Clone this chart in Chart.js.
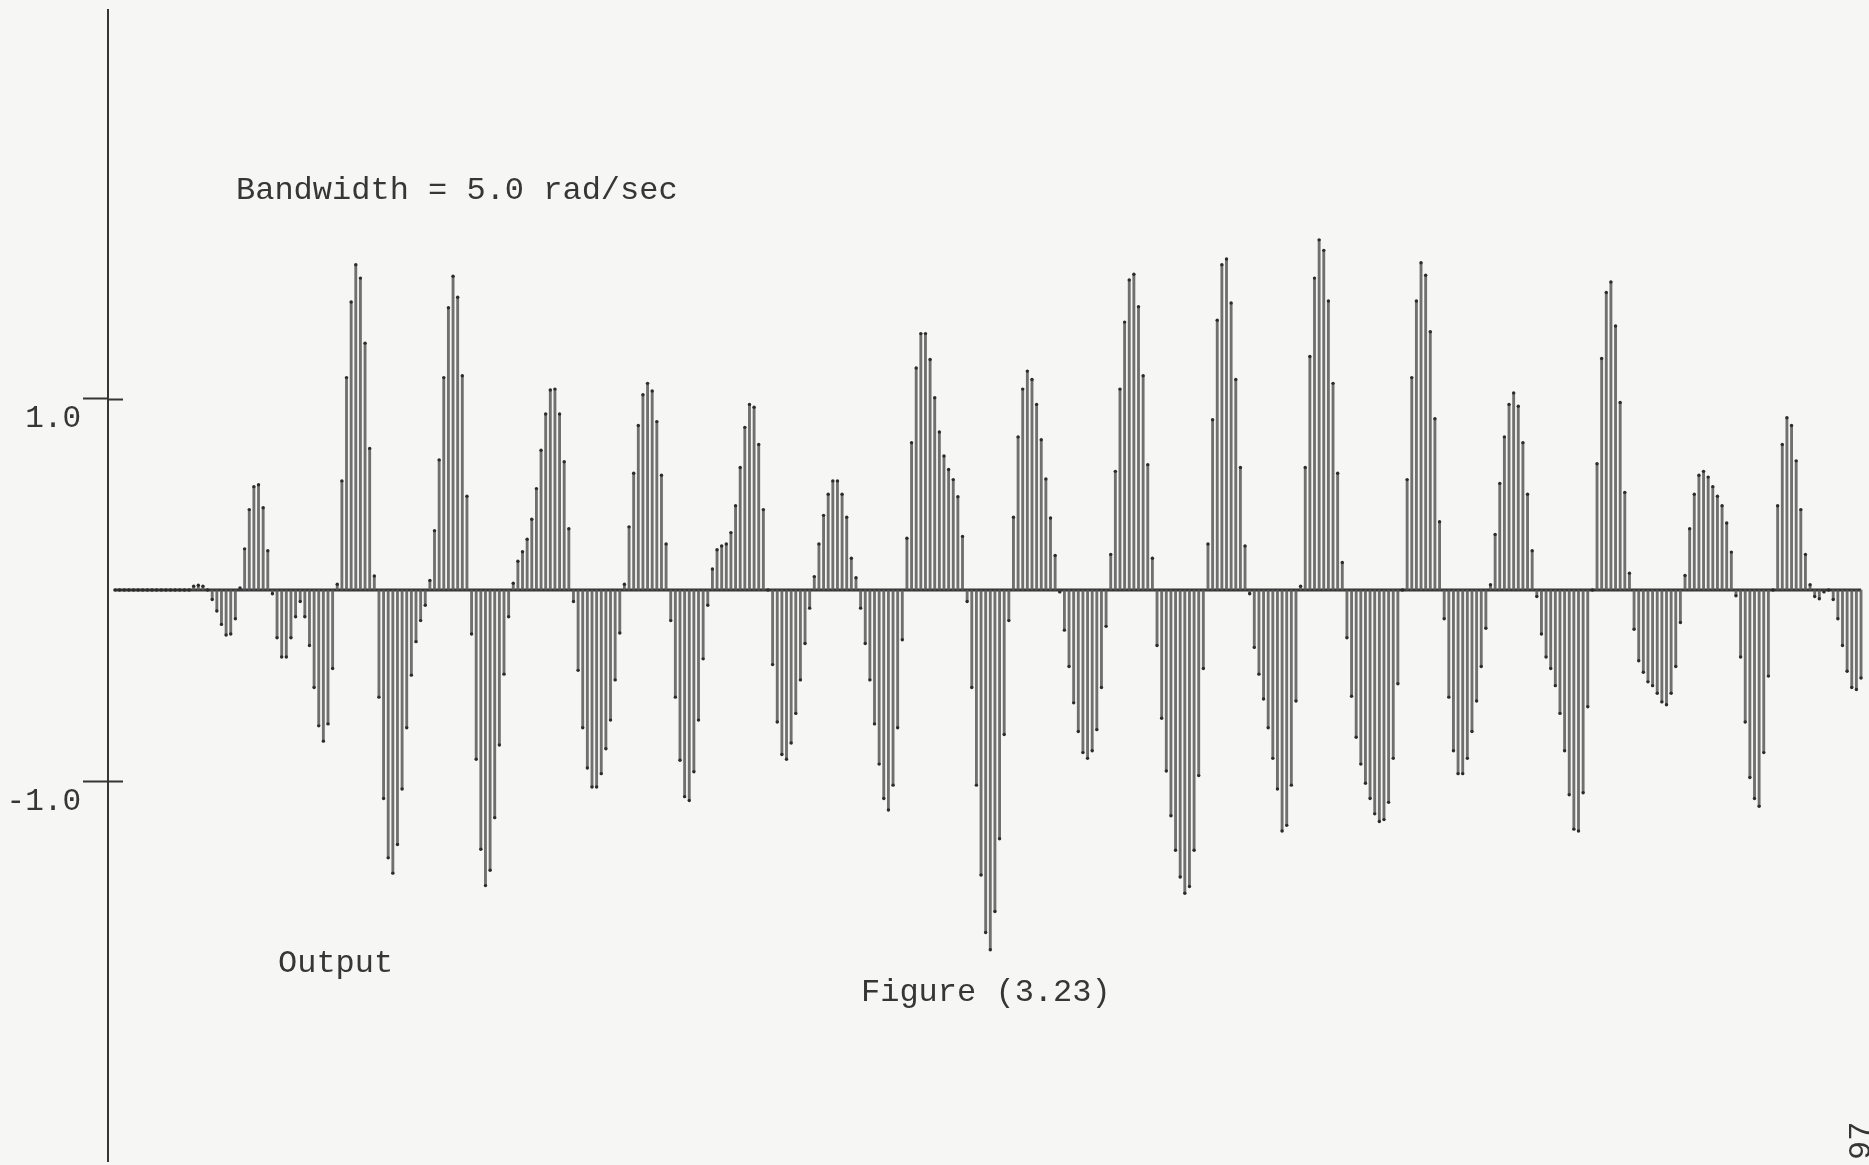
<!DOCTYPE html>
<html>
<head>
<meta charset="utf-8">
<title>Figure (3.23)</title>
<script src="https://cdn.jsdelivr.net/npm/chart.js@4/dist/chart.umd.min.js"></script>
<style>
  html, body { margin: 0; padding: 0; background: #f6f6f4; }
  #page { position: relative; width: 1869px; height: 1165px; overflow: hidden; }
  #plot { position: absolute; left: 0; top: 0; }
  .note {
    position: absolute; white-space: pre; margin: 0;
    font-family: "Liberation Mono", "DejaVu Sans Mono", monospace;
    font-size: 32px; line-height: 32px; color: #363636;
  }
  #bw { left: 236px; top: 175px; }
  #out { left: 278px; top: 948px; }
  #fig { left: 861px; top: 977px; }
  #pg { left: 1846px; top: 1160px; font-size: 32px; transform: rotate(-90deg); transform-origin: left top; }
</style>
</head>
<body>
<div id="page">
  <canvas id="plot" width="1869" height="1165"></canvas>
  <div class="note" id="bw">Bandwidth = 5.0 rad/sec</div>
  <div class="note" id="out">Output</div>
  <div class="note" id="fig">Figure (3.23)</div>
  <div class="note" id="pg">97</div>
</div>
<script>
// Sampled output, one value per time step (quiet start, then the bursts).
const leadIn = [0, 0, 0, 0, 0, 0, 0, 0, 0, 0, 0, 0, 0, 0, 0, 0, 0];

const trace01 = [
  0.02, 0.025, 0.02, 0, -0.05, -0.11, -0.18, -0.235, -0.23, -0.15,
  0.01, 0.215, 0.42, 0.54, 0.55, 0.43, 0.205, -0.02, -0.25, -0.35,
  -0.35, -0.25, -0.14, -0.06, -0.14, -0.29, -0.51, -0.71, -0.79, -0.70,
  -0.41, 0.03, 0.57, 1.11, 1.505, 1.70, 1.63, 1.29, 0.74, 0.073
];
const trace02 = [
  -0.56, -1.09, -1.40, -1.48, -1.33, -1.04, -0.72, -0.445, -0.27, -0.16,
  -0.08, 0.05, 0.31, 0.68, 1.11, 1.475, 1.64, 1.53, 1.12, 0.49,
  -0.23, -0.885, -1.355, -1.545, -1.465, -1.19, -0.81, -0.44, -0.14, 0.035,
  0.15, 0.20, 0.265, 0.37, 0.53, 0.73, 0.92, 1.045, 1.05, 0.92
];
const trace03 = [
  0.67, 0.32, -0.06, -0.42, -0.72, -0.93, -1.03, -1.03, -0.96, -0.83,
  -0.68, -0.47, -0.225, 0.03, 0.33, 0.61, 0.86, 1.02, 1.08, 1.04,
  0.88, 0.60, 0.24, -0.16, -0.56, -0.89, -1.08, -1.10, -0.95, -0.68,
  -0.36, -0.08, 0.11, 0.21, 0.23, 0.24, 0.30, 0.44, 0.64, 0.85
];
const trace04 = [
  0.97, 0.955, 0.76, 0.42, 0, -0.39, -0.69, -0.86, -0.885, -0.80,
  -0.645, -0.47, -0.28, -0.095, 0.07, 0.24, 0.39, 0.50, 0.57, 0.57,
  0.50, 0.38, 0.166, 0.064, -0.095, -0.28, -0.47, -0.70, -0.91, -1.09,
  -1.15, -1.02, -0.72, -0.26, 0.27, 0.77, 1.16, 1.34, 1.34, 1.205
];
const trace05 = [
  1.005, 0.826, 0.70, 0.63, 0.577, 0.487, 0.28, -0.06, -0.51, -1.02,
  -1.49, -1.79, -1.88, -1.68, -1.30, -0.755, -0.16, 0.38, 0.80, 1.05,
  1.144, 1.10, 0.97, 0.785, 0.58, 0.376, 0.18, -0.01, -0.21, -0.40,
  -0.59, -0.74, -0.85, -0.88, -0.84, -0.73, -0.51, -0.19, 0.186, 0.62
];
const trace06 = [
  1.05, 1.40, 1.62, 1.65, 1.48, 1.12, 0.655, 0.166, -0.29, -0.67,
  -0.946, -1.18, -1.36, -1.50, -1.585, -1.55, -1.36, -0.97, -0.41, 0.24,
  0.89, 1.41, 1.70, 1.73, 1.50, 1.10, 0.64, 0.23, -0.02, -0.30,
  -0.44, -0.57, -0.72, -0.88, -1.04, -1.26, -1.23, -1.02, -0.58, 0.02
];
const trace07 = [
  0.64, 1.22, 1.63, 1.83, 1.775, 1.51, 1.08, 0.61, 0.144, -0.25,
  -0.555, -0.77, -0.91, -1.01, -1.09, -1.17, -1.21, -1.20, -1.11, -0.88,
  -0.49, 0, 0.577, 1.11, 1.51, 1.71, 1.645, 1.35, 0.895, 0.357,
  -0.15, -0.56, -0.84, -0.96, -0.96, -0.88, -0.74, -0.58, -0.40, -0.20
];
const trace08 = [
  0.027, 0.29, 0.557, 0.80, 0.97, 1.03, 0.96, 0.77, 0.50, 0.205,
  -0.034, -0.23, -0.35, -0.41, -0.50, -0.645, -0.84, -1.07, -1.25, -1.26,
  -1.06, -0.61, 0, 0.66, 1.21, 1.555, 1.61, 1.38, 0.98, 0.51,
  0.088, -0.205, -0.37, -0.43, -0.48, -0.50, -0.54, -0.585, -0.60, -0.54
];
const trace09 = [
  -0.40, -0.17, 0.076, 0.32, 0.50, 0.60, 0.62, 0.59, 0.54, 0.49,
  0.44, 0.35, 0.198, -0.03, -0.35, -0.69, -0.98, -1.09, -1.13, -0.85,
  -0.45, 0, 0.44, 0.76, 0.90, 0.86, 0.675, 0.42, 0.186, 0.027,
  -0.034, -0.046, -0.01, 0, -0.05, -0.15, -0.29, -0.425, -0.51, -0.52,
  -0.46
];

// Vertical axis: only the two labelled levels.
const tickValues = [1, -1];
const tickLabels = ['1.0', '-1.0'];

const samples = [].concat(leadIn, trace01, trace02, trace03, trace04, trace05,
                          trace06, trace07, trace08, trace09);
const stems = samples.map((v, i) => ({ x: i, y: v }));
const zeroLine = samples.map((v, i) => ({ x: i, y: 0 }));

const INK = '#353535';

// Short stubs that carry each tick mark across the axis line.
const tickStubs = {
  id: 'tickStubs',
  afterDraw(chart) {
    const y = chart.scales.y;
    const ctx = chart.ctx;
    ctx.save();
    ctx.strokeStyle = INK;
    ctx.lineWidth = 2;
    tickValues.forEach(v => {
      const py = Math.round(y.getPixelForValue(v)) + 0.5;
      ctx.beginPath();
      ctx.moveTo(chart.chartArea.left - 1, py);
      ctx.lineTo(chart.chartArea.left + 15, py);
      ctx.stroke();
    });
    ctx.restore();
  }
};

new Chart(document.getElementById('plot'), {
  type: 'bar',
  data: {
    datasets: [
      {
        type: 'line', data: zeroLine, borderColor: INK, borderWidth: 2.8,
        pointRadius: 0, order: 3
      },
      {
        type: 'bar', data: stems, backgroundColor: 'rgba(88,88,88,0.85)',
        barThickness: 2.2, borderWidth: 0, order: 2
      },
      {
        type: 'line', data: stems, showLine: false, pointRadius: 1.7,
        pointBackgroundColor: '#2c2c2c', pointBorderWidth: 0, order: 1
      }
    ]
  },
  options: {
    responsive: false,
    animation: false,
    devicePixelRatio: 1,
    layout: { padding: { top: 10, left: 0, right: 0, bottom: 0 } },
    plugins: { legend: { display: false }, tooltip: { enabled: false } },
    scales: {
      x: {
        type: 'linear', display: false, offset: false,
        min: -1.5, max: 377.86
      },
      y: {
        min: -2.984375, max: 3.03125,
        afterBuildTicks(scale) { scale.ticks = tickValues.map(v => ({ value: v })); },
        afterFit(scale) { scale.width = 108; scale.paddingTop = 0; scale.paddingBottom = 0; },
        border: { display: true, color: INK, width: 2 },
        grid: {
          drawOnChartArea: false, drawTicks: true, tickLength: 25,
          tickWidth: 2, tickColor: INK
        },
        ticks: {
          padding: 2, labelOffset: 20, color: '#363636',
          font: { family: 'Liberation Mono', size: 31 },
          callback: (v) => tickLabels[tickValues.indexOf(v)]
        }
      }
    }
  },
  plugins: [tickStubs]
});
</script>
</body>
</html>
